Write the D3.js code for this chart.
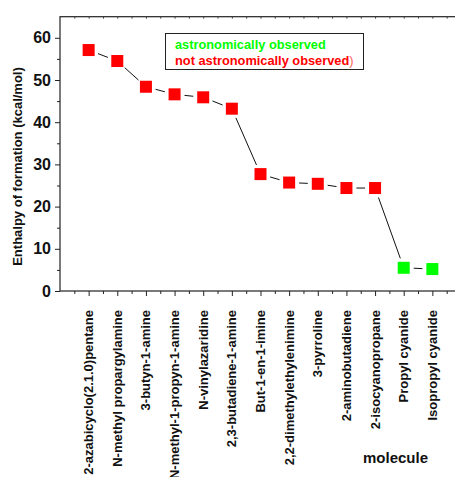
<!DOCTYPE html>
<html><head><meta charset="utf-8">
<script src="https://cdn.jsdelivr.net/npm/d3@7"></script>
<style>body{margin:0;background:#fff}svg{display:block}text{font-family:"Liberation Sans",Arial,sans-serif;font-weight:bold}</style>
</head><body>
<svg id="c" width="455" height="477"></svg>
<script>
const molecules = ["2-azabicyclo(2.1.0)pentane","N-methyl propargylamine","3-butyn-1-amine","N-methyl-1-propyn-1-amine","N-vinylazaridine","2,3-butadiene-1-amine","But-1-en-1-imine","2,2-dimethylethylenimine","3-pyrroline","2-aminobutadiene","2-isocyanopropane","Propyl cyanide","Isopropyl cyanide"];
const enthalpy = [57.1,54.5,48.4,46.6,45.9,43.2,27.7,25.7,25.4,24.4,24.4,5.5,5.2];
const observed = [false,false,false,false,false,false,false,false,false,false,false,true,true];
const yTicks = [0,10,20,30,40,50,60];
const legendLabels = ["astronomically observed","not astronomically observed"];

const svg = d3.select("#c");
const x = d3.scaleLinear().domain([0,14]).range([60,461]);
const y = d3.scaleLinear().domain([0,65]).range([291,16.7]);
const green = "#00ff00", red = "#ff0000";

// frame
svg.append("rect").attr("x",60).attr("y",y(65)).attr("width",401).attr("height",y(0)-y(65))
  .attr("fill","none").attr("stroke","#222").attr("stroke-width",1.2);

// y axis
const ya = svg.append("g").attr("transform","translate(60,0)")
  .call(d3.axisLeft(y).tickValues(yTicks).tickSize(5).tickPadding(4).tickFormat(d3.format("d")));
ya.select(".domain").remove();
ya.selectAll("text").style("font-size","16px").attr("fill","#111");
ya.selectAll("line").attr("stroke","#222");
svg.append("g").attr("transform","translate(60,0)")
  .call(d3.axisLeft(y).tickValues(d3.range(5,65,10)).tickSize(3).tickFormat(""))
  .call(g=>g.select(".domain").remove()).selectAll("line").attr("stroke","#222");

// x axis ticks
const xa = svg.append("g").attr("transform","translate(0,291)")
  .call(d3.axisBottom(x).tickValues(d3.range(1,14)).tickSize(5).tickFormat(""));
xa.select(".domain").remove(); xa.selectAll("line").attr("stroke","#222");
svg.append("g").attr("transform","translate(0,291)")
  .call(d3.axisBottom(x).tickValues(d3.range(0.5,14,1)).tickSize(3).tickFormat(""))
  .call(g=>g.select(".domain").remove()).selectAll("line").attr("stroke","#222");
// top minor ticks (inward)
svg.append("g").attr("transform","translate(0,"+y(65)+")")
  .call(d3.axisBottom(x).tickValues(d3.range(0.5,14,0.5)).tickSize(2).tickFormat(""))
  .call(g=>g.select(".domain").remove()).selectAll("line").attr("stroke","#444");

// x labels
svg.append("g").selectAll("text").data(molecules).join("text")
  .attr("transform",(d,i)=>`translate(${x(i+1)},310) rotate(-90)`)
  .attr("text-anchor","end").attr("dy","0.35em")
  .style("font-size","13px").attr("fill","#111").text(d=>d);

// axis titles
svg.append("text").attr("transform","translate(22,166.5) rotate(-90)").attr("text-anchor","middle")
  .style("font-size","13px").attr("fill","#111").text("Enthalpy of formation (kcal/mol)");
svg.append("text").attr("x",395.5).attr("y",463).attr("text-anchor","middle")
  .style("font-size","15px").attr("fill","#111").text("molecule");

// line with gaps
const pts = enthalpy.map((v,i)=>[x(i+1),y(v)]);
const segs = d3.pairs(pts).map(([a,b])=>{
  const dx=b[0]-a[0], dy=b[1]-a[1], L=Math.hypot(dx,dy), g=10;
  return [a[0]+dx*g/L, a[1]+dy*g/L, b[0]-dx*g/L, b[1]-dy*g/L];
});
svg.append("g").selectAll("line").data(segs).join("line")
  .attr("x1",d=>d[0]).attr("y1",d=>d[1]).attr("x2",d=>d[2]).attr("y2",d=>d[3])
  .attr("stroke","#111").attr("stroke-width",1);

// markers
const s = 12;
svg.append("g").selectAll("rect").data(enthalpy).join("rect")
  .attr("x",(d,i)=>x(i+1)-s/2).attr("y",d=>y(d)-s/2).attr("width",s).attr("height",s)
  .attr("fill",(d,i)=>observed[i]?green:red);

// legend
svg.append("rect").attr("x",165.5).attr("y",33.5).attr("width",198).attr("height",36)
  .attr("fill","#fff").attr("stroke","#222").attr("stroke-width",1);
svg.append("text").attr("x",175).attr("y",49).style("font-size","12.8px").attr("fill",green).text(legendLabels[0]);
const t2 = svg.append("text").attr("x",175).attr("y",65).style("font-size","12.8px").attr("fill",red);
t2.append("tspan").text(legendLabels[1]);
t2.append("tspan").attr("fill","#ff6060").style("font-weight","normal").text(")");
</script>
</body></html>
